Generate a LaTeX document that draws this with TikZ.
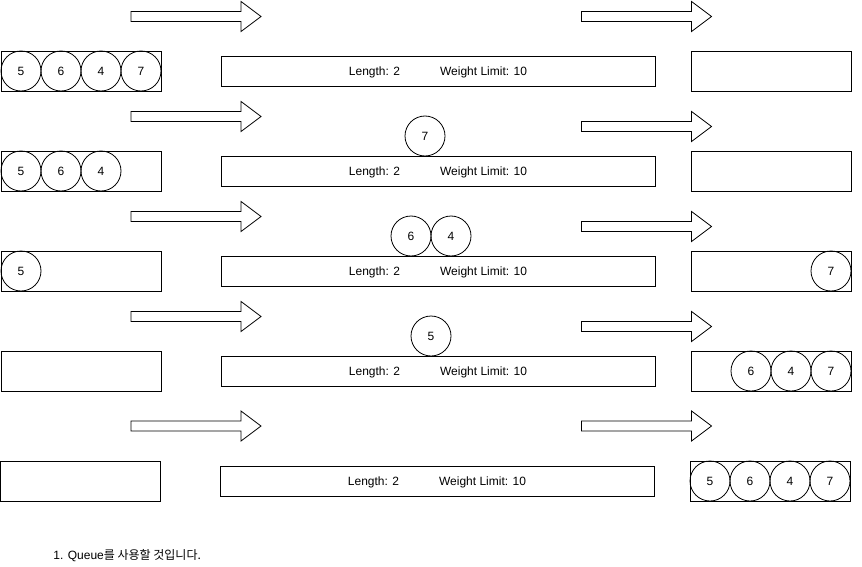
\documentclass[tikz,border=0pt]{standalone}
\usepackage{fontspec}
\setmainfont{Liberation Sans}
\newfontfamily\krfont{Noto Sans CJK KR}
\usetikzlibrary{positioning}

\begin{document}
\begin{tikzpicture}[x=1pt, y=-1pt, line width=0.8pt,
    every node/.style={font=\fontsize{12}{14}\selectfont},
    queuebox/.style={draw, minimum width=160pt, minimum height=40pt, inner sep=0pt},
    bridgebox/.style={draw, minimum width=434pt, minimum height=30pt, inner sep=0pt, text depth=0pt},
    truck/.style={draw, circle, minimum size=40pt, inner sep=0pt, outer sep=0pt},
    fatarrow/.pic={\draw (0,-5) -- (110,-5) -- (110,-15) -- (130,0) -- (110,15) -- (110,5) -- (0,5) -- cycle;}]
        \useasboundingbox (0,0) rectangle (862,567);
        % Step 1
        \pic at (131,16.5) {fatarrow}; \pic at (581.5,16.5) {fatarrow};
        \node[queuebox] (wait1) at (81,71) {};
        \node[bridgebox] (bridge1) at (438,71) {Length: 2\hspace{40pt}Weight Limit: 10};
        \node[queuebox] (done1) at (771,71) {};
        \node[truck] (ta5) at (21,71) {5}; \node[truck, right=0pt of ta5] (ta6) {6};
        \node[truck, right=0pt of ta6] (ta4) {4}; \node[truck, right=0pt of ta4] (ta7) {7};
        % Step 2
        \pic at (131,116.5) {fatarrow}; \pic at (581.5,126.5) {fatarrow};
        \node[queuebox] (wait2) at (81,171) {};
        \node[bridgebox] (bridge2) at (438,171) {Length: 2\hspace{40pt}Weight Limit: 10};
        \node[queuebox] (done2) at (771,171) {};
        \node[truck] (tb5) at (21,171) {5}; \node[truck, right=0pt of tb5] (tb6) {6};
        \node[truck, right=0pt of tb6] (tb4) {4};
        \node[truck] (tb7) at (425,136) {7};
        % Step 3
        \pic at (131,216.5) {fatarrow}; \pic at (581.5,226.5) {fatarrow};
        \node[queuebox] (wait3) at (81,271) {};
        \node[bridgebox] (bridge3) at (438,271) {Length: 2\hspace{40pt}Weight Limit: 10};
        \node[queuebox] (done3) at (771,271) {};
        \node[truck] (tc5) at (21,271) {5};
        \node[truck] (tc6) at (411,236) {6}; \node[truck, right=0pt of tc6] (tc4) {4};
        \node[truck] (tc7) at (831,271) {7};
        % Step 4
        \pic at (131,316.5) {fatarrow}; \pic at (581.5,326.5) {fatarrow};
        \node[queuebox] (wait4) at (81,371) {};
        \node[bridgebox] (bridge4) at (438,371) {Length: 2\hspace{40pt}Weight Limit: 10};
        \node[queuebox] (done4) at (771,371) {};
        \node[truck] (td5) at (431,336) {5};
        \node[truck] (td6) at (751,371) {6}; \node[truck, right=0pt of td6] (td4) {4};
        \node[truck, right=0pt of td4] (td7) {7};
        % Step 5
        \pic at (131,426) {fatarrow}; \pic at (581.5,426) {fatarrow};
        \node[queuebox] (wait5) at (80,481) {};
        \node[bridgebox] (bridge5) at (437,481) {Length: 2\hspace{40pt}Weight Limit: 10};
        \node[queuebox] (done5) at (770,481) {};
        \node[truck] (te5) at (710,481) {5}; \node[truck, right=0pt of te5] (te6) {6};
        \node[truck, right=0pt of te6] (te4) {4}; \node[truck, right=0pt of te4] (te7) {7};
        % Note
        \node[anchor=west, inner sep=0pt] (note) at (53,556) {1. Queue{\krfont 를 사용할 것입니다.}};
\end{tikzpicture}
\end{document}
